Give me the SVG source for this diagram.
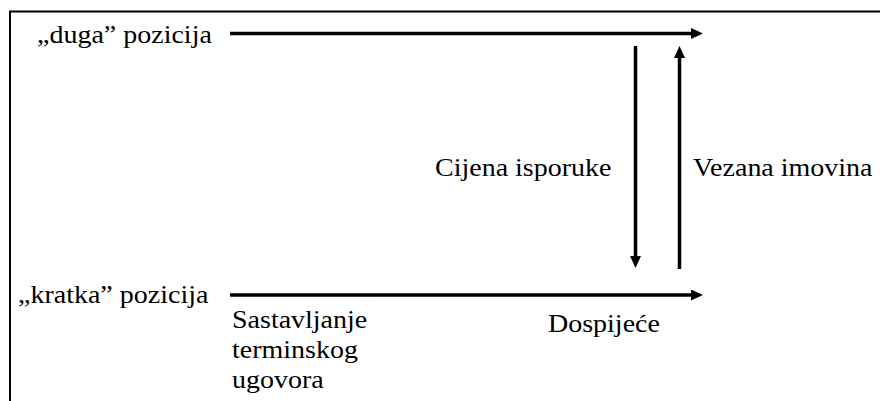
<svg xmlns="http://www.w3.org/2000/svg" width="880" height="401" viewBox="0 0 880 401">
<style>
  .ln { stroke: #000; stroke-width: 3.5; fill: none; }
  .frame { stroke: #000; stroke-width: 2; fill: none; }
</style>
<defs>
  <marker id="ah" markerUnits="userSpaceOnUse" markerWidth="12" markerHeight="12" refX="6" refY="5.5" orient="auto">
    <path d="M0,0 L12,5.5 L0,11 z" fill="#000"/>
  </marker>
</defs>
<rect width="880" height="401" fill="#fff"/>
<path class="frame" d="M10,401 L10,11.5 L880,11.5"/>

<g id="duga">
  <text font-family="Liberation Serif, serif" font-size="25" transform="translate(37,43) scale(1.12,1)">&#8222;duga&#8221; pozicija</text>
</g>
<g id="kratka">
  <text font-family="Liberation Serif, serif" font-size="25" transform="translate(18,303) scale(1.12,1)">&#8222;kratka&#8221; pozicija</text>
</g>
<g id="cijena">
  <text font-family="Liberation Serif, serif" font-size="25" transform="translate(435,176) scale(1.12,1)">Cijena isporuke</text>
</g>
<g id="vezana">
  <text font-family="Liberation Serif, serif" font-size="25" transform="translate(693,176) scale(1.12,1)">Vezana imovina</text>
</g>
<g id="sastavljanje">
  <text font-family="Liberation Serif, serif" font-size="25" transform="translate(232,328) scale(1.12,1)">Sastavljanje</text>
  <text font-family="Liberation Serif, serif" font-size="25" transform="translate(232,358) scale(1.12,1)">terminskog</text>
  <text font-family="Liberation Serif, serif" font-size="25" transform="translate(232,388) scale(1.12,1)">ugovora</text>
</g>
<g id="dospijece">
  <text font-family="Liberation Serif, serif" font-size="25" transform="translate(548,332) scale(1.12,1)">Dospije&#263;e</text>
</g>

<g id="connectors">
  <line class="ln" x1="230" y1="33.5" x2="697" y2="33.5" marker-end="url(#ah)"/>
  <line class="ln" x1="230" y1="295" x2="697" y2="295" marker-end="url(#ah)"/>
  <line class="ln" x1="635.5" y1="46" x2="635.5" y2="262" marker-end="url(#ah)"/>
  <line class="ln" x1="679.5" y1="269" x2="679.5" y2="52" marker-end="url(#ah)"/>
</g>
</svg>
